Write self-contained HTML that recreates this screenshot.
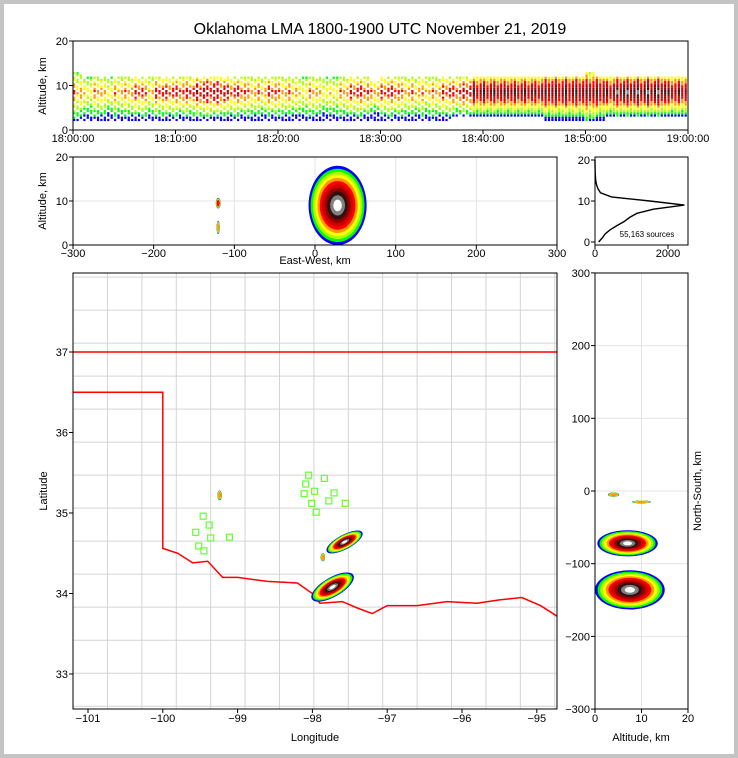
<!DOCTYPE html>
<html><head><meta charset="utf-8"><style>
html,body{margin:0;padding:0;background:#fff}
svg{display:block;font-family:"Liberation Sans",sans-serif}
</style></head><body>
<svg id="chart" width="738" height="758" viewBox="0 0 738 758" xmlns="http://www.w3.org/2000/svg">
<rect x="2" y="2" width="734" height="754" fill="#fff" stroke="#c4c4c4" stroke-width="4"/>
<text x="380" y="34" font-size="16" text-anchor="middle">Oklahoma LMA 1800-1900 UTC November 21, 2019</text>
<g id="layer"></g>
</svg>
<script>
// ---- data ----
const topLow  = [2,2,2,2,2,2,2,2,2,2, 2,2,2,2,2,2,2,2,2,2, 2,2,2,2,2,2,2,2,2,2, 2,2,2,2,2,2,2,3,3,3, 3,3,3,3,3,3,2,2,2,2, 2,2,3,3,3,3,3,3,3,3];
const topHigh = [13,12,12,12,12,12,12,12,12,12, 12,12,12,12,12,12,12,12,12,12, 12,12,12,12,12,12,12,12,12,11, 12,12,12,12,12,12,12,12,12,12, 12,12,12,12,12,12,12,12,12,12, 13,12,12,12,12,12,12,12,12,12];
const topInt  = [0.5,0.4,0.5,0.4,0.5,0.5,0.6,0.5,0.6,0.6, 0.6,0.6,0.7,0.7,0.7,0.6,0.6,0.5,0.5,0.6, 0.5,0.5,0.4,0.5,0.4,0.4,0.5,0.6,0.6,0.5, 0.6,0.6,0.5,0.5,0.5,0.5,0.6,0.6,0.7,0.8, 0.8,0.8,0.8,0.8,0.8,0.8,0.8,0.8,0.8,0.8, 0.8,0.8,0.8,0.9,0.9,0.9,0.9,0.9,0.8,0.8];
const topPeak = 8.5;
const histAlt   = [0,1,2,3,4,5,6,7,8,9,10,11,12,13,14,15,16,17,18,19,20];
const histCount = [100,200,280,420,600,800,950,1150,1600,2450,1500,450,150,80,40,20,10,5,3,1,0];
const stLon = [-98.05,-97.84,-98.09,-97.97,-98.11,-97.71,-98.01,-97.78,-97.56,-97.95,-99.46,-99.38,-99.56,-99.36,-99.52,-99.11,-99.45];
const stLat = [35.47,35.43,35.36,35.27,35.24,35.25,35.12,35.15,35.12,35.01,34.96,34.85,34.76,34.69,34.59,34.70,34.53];
const mapLon = [-97.57,-97.73,-99.24,-97.86];
const mapLat = [34.64,34.08,35.22,34.45];
const mapA   = [0.27,0.32,0.03,0.03];
const mapB   = [0.09,0.12,0.06,0.05];
const mapRot = [-28,-30,0,0];
const mapI   = [1,1,0.4,0.4];
const ewX = [28,-120,-120];
const ewZ = [9,9.5,4];
const ewRX = [36,3,2];
const ewRZ = [9,1.2,1.5];
const ewI = [1,0.5,0.4];
const nsZ = [7,7.5,4,10];
const nsY = [-72,-136,-5,-15];
const nsRZ = [6.5,7.5,1.2,2];
const nsRY = [18,27,3,2];
const nsI = [1,1,0.4,0.4];
const okLon = [-101.2,-94.62,-94.62,-94.7,-94.95,-95.2,-95.5,-95.8,-96.2,-96.6,-97.0,-97.2,-97.4,-97.6,-97.9,-98.0,-98.2,-98.6,-99.0,-99.2,-99.4,-99.6,-99.8,-100.0,-100.0,-101.2];
const okLat = [37.0,37.0,33.68,33.7,33.85,33.95,33.92,33.88,33.9,33.85,33.85,33.75,33.82,33.9,33.88,34.0,34.13,34.15,34.2,34.2,34.4,34.38,34.5,34.56,36.5,36.5];

const NS='http://www.w3.org/2000/svg';
const L=document.getElementById('layer');
function mk(tag,at,parent){const e=document.createElementNS(NS,tag);for(const k in at)e.setAttribute(k,at[k]);(parent||L).appendChild(e);return e;}
const cmapC=['#0000ff','#00ff00','#aaff00','#ffff00','#ff9900','#ff0000','#d00000','#900000','#301010','#808080','#ffffff'];
function cmap(v){v=Math.max(0,Math.min(0.999,v));return cmapC[Math.floor(v*cmapC.length)];}

const tx=m=>73+m/60*615, ty=a=>130-a/20*89;
const mx=k=>315+k*0.8067, my=a=>245-a*4.4;
const hx=c=>595+c*0.0365, hy=a=>242-a*4.1;
const lx=lo=>88+(lo+101)*74.8, ly=la=>352-(la-37)*80.5;
const rx=a=>595+a*4.65, ry=n=>491-n*0.727;

function clip(id,x,y,w,h){const d=mk('clipPath',{id:id});mk('rect',{x:x,y:y,width:w,height:h},d);}
clip('cTop',73,41,615,89);clip('cMid',73,157,484,88);clip('cMap',73,273,484,436);clip('cR',595,273,93,436);

function grid(xs,ys,x0,x1,y0,y1){
  xs.forEach(x=>{const l=mk('line',{x1:x,x2:x,y1:y0,y2:y1,stroke:'#e4e4e4','stroke-width':1});
  
  });
  ys.forEach(y=>{const l=mk('line',{x1:x0,x2:x1,y1:y,y2:y,stroke:'#e4e4e4','stroke-width':1});
  
  });
}
function frame(x,y,w,h,name){const r=mk('rect',{x:x,y:y,width:w,height:h,fill:'none',stroke:'#000','stroke-width':1});
  
  }
function tick(x,y,dx,dy){const l=mk('line',{x1:x,y1:y,x2:x+dx,y2:y+dy,stroke:'#000','stroke-width':1});
  
  }
function label(x,y,s,anchor,name,size,rot){const t=mk('text',{x:x,y:y,'font-size':size||11,'text-anchor':anchor||'middle'});
  if(rot)t.setAttribute('transform','rotate('+rot+' '+x+' '+y+')');
  t.textContent=s;
  
  return t;}

// ---- top panel ----
const gTop=mk('g',{'clip-path':'url(#cTop)'});


for(let i=0;i<topLow.length;i++){
  for(let s=0;s<3;s++){
    for(let a=topLow[i];a<topHigh[i];a+=0.5){
      const d=Math.abs(a+0.25-topPeak)/((topHigh[i]-topLow[i])/2+0.5);
      const v=topInt[i]*(1-d*0.85)*(s==1?0.8:(s==2?0.9:1));
      if(((a*2+s+i)%3)==0 && topInt[i]<0.75)continue;
      const r=mk('rect',{x:tx(i+s/3),y:ty(a+0.5),width:2.2,height:2.2,fill:cmap(v)},gTop);
      
      
    }
  }
}
frame(73,41,615,89,'time-height-axes');
['18:00:00','18:10:00','18:20:00','18:30:00','18:40:00','18:50:00','19:00:00'].forEach((s,i)=>{tick(tx(i*10),130,0,4);label(tx(i*10),142,s,'middle','x-tick-label');});
[0,10,20].forEach(v=>{tick(73,ty(v),-4,0);label(68,ty(v)+4,String(v),'end','y-tick-label');});
label(46,86,'Altitude, km','middle','y-axis-title',11,-90);

// ---- middle panel ----
grid([-300,-200,-100,0,100,200,300].map(mx),[0,10,20].map(my),73,557,157,245);
const gMid=mk('g',{'clip-path':'url(#cMid)'});


function blob(g,cx,cy,rxp,ryp,inten,rot,name){
  const N=11;
  for(let k=0;k<N;k++){
    const f=Math.pow(1-k/N,0.8);
    if(k/N>inten)break;
    const e=mk('ellipse',{cx:cx,cy:cy,rx:Math.max(0.8,rxp*f),ry:Math.max(0.8,ryp*f),fill:cmap(k/N+0.01)},g);
    if(rot)e.setAttribute('transform','rotate('+rot+' '+cx+' '+cy+')');
    
    
  }
}
for(let i=0;i<ewX.length;i++)blob(gMid,mx(ewX[i]),my(ewZ[i]),ewRX[i]*0.8067,ewRZ[i]*4.4,ewI[i],0,'ew-source-cluster');
frame(73,157,484,88,'east-west-axes');
[-300,-200,-100,0,100,200,300].forEach(v=>{tick(mx(v),245,0,4);label(mx(v),257,v<0?'\u2212'+(-v):String(v),'middle','x-tick-label');});
[0,10,20].forEach(v=>{tick(73,my(v),-4,0);label(68,my(v)+4,String(v),'end','y-tick-label');});
label(46,201,'Altitude, km','middle','y-axis-title',11,-90);
label(315,264,'East-West, km','middle','x-axis-title');

// ---- histogram ----
let pts=histAlt.map((a,i)=>hx(histCount[i]).toFixed(1)+','+hy(a).toFixed(1)).join(' ');
const hl=mk('polyline',{points:pts,fill:'none',stroke:'#000','stroke-width':1.4});


frame(595,157,93,88,'histogram-axes');
[0,2000].forEach(v=>{tick(hx(v),245,0,4);label(hx(v),257,String(v),'middle','x-tick-label');});
[0,10,20].forEach(v=>{tick(595,hy(v),-4,0);label(590,hy(v)+4,String(v),'end','y-tick-label');});
label(647,237,'55,163 sources','middle','source-count-label',8);

// ---- map ----
const gMap=mk('g',{'clip-path':'url(#cMap)'});


for(let lo=-101.2;lo<-94.6;lo+=0.46){const l=mk('line',{x1:lx(lo),x2:lx(lo),y1:273,y2:709,stroke:'#d4d4d4','stroke-width':1},gMap);
  
  }
for(let la=32.6;la<38;la+=0.41){const l=mk('line',{x1:73,x2:557,y1:ly(la),y2:ly(la),stroke:'#d4d4d4','stroke-width':1},gMap);
  
  }
const ok=mk('polyline',{points:okLon.map((v,i)=>lx(v).toFixed(1)+','+ly(okLat[i]).toFixed(1)).join(' '),fill:'none',stroke:'#ff0000','stroke-width':1.5},gMap);


for(let i=0;i<mapLon.length;i++)blob(gMap,lx(mapLon[i]),ly(mapLat[i]),mapA[i]*74.8,mapB[i]*80.5,mapI[i],mapRot[i],'map-source-cluster');
for(let i=0;i<stLon.length;i++){const r=mk('rect',{x:lx(stLon[i])-3,y:ly(stLat[i])-3,width:6,height:6,fill:'none',stroke:'#66ff33','stroke-width':1.2},gMap);
  
  }
frame(73,273,484,436,'map-axes');
[-101,-100,-99,-98,-97,-96,-95].forEach(v=>{tick(lx(v),709,0,4);label(lx(v),722,'\u2212'+(-v),'middle','x-tick-label');});
[33,34,35,36,37].forEach(v=>{tick(73,ly(v),-4,0);label(68,ly(v)+4,String(v),'end','y-tick-label');});
label(315,741,'Longitude','middle','x-axis-title');
label(47,491,'Latitude','middle','y-axis-title',11,-90);

// ---- right panel ----
grid([0,10,20].map(rx),[300,200,100,0,-100,-200,-300].map(ry),595,688,273,709);
const gR=mk('g',{'clip-path':'url(#cR)'});


for(let i=0;i<nsZ.length;i++)blob(gR,rx(nsZ[i]),ry(nsY[i]),nsRZ[i]*4.65,nsRY[i]*0.727,nsI[i],0,'ns-source-cluster');
frame(595,273,93,436,'north-south-axes');
[0,10,20].forEach(v=>{tick(rx(v),709,0,4);label(rx(v),722,String(v),'middle','x-tick-label');});
[300,200,100,0,-100,-200,-300].forEach(v=>{tick(595,ry(v),-4,0);label(590,ry(v)+4,v<0?'\u2212'+(-v):String(v),'end','y-tick-label');});
label(641,741,'Altitude, km','middle','x-axis-title');
label(701,491,'North-South, km','middle','y-axis-title',11,-90);
</script>
</body></html>
